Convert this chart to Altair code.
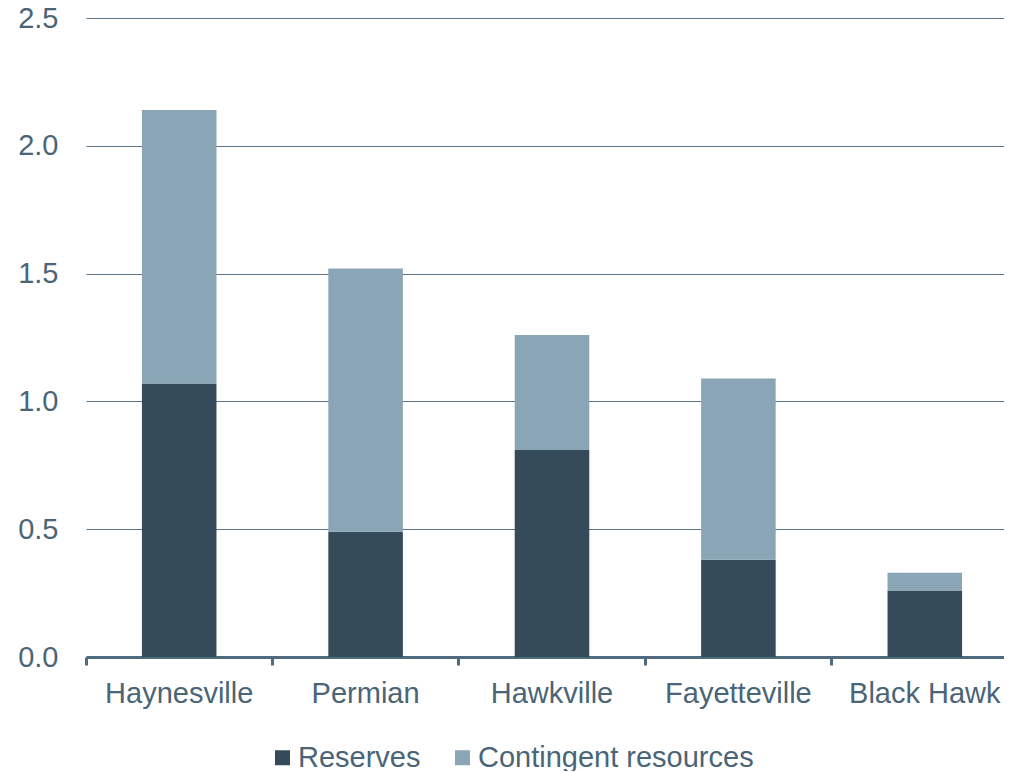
import altair as alt
import pandas as pd

plays = ["Haynesville", "Permian", "Hawkville", "Fayetteville", "Black Hawk"]
reserves = [1.07, 0.49, 0.81, 0.38, 0.26]
contingent = [1.07, 1.03, 0.45, 0.71, 0.07]
series = ["Reserves", "Contingent resources"]
colors = ["#364B59", "#8AA5B5"]

rows = []
for p, r, c in zip(plays, reserves, contingent):
    rows.append({"play": p, "series": series[0], "value": r, "ord": 0})
    rows.append({"play": p, "series": series[1], "value": c, "ord": 1})
df = pd.DataFrame(rows)

FONT = "Liberation Sans"
TXT = "#4A6577"
FS = 29

chart = alt.Chart(df).mark_bar(width={"band": 0.4}).encode(
    x=alt.X("play:N", sort=plays, title=None,
            scale=alt.Scale(paddingInner=0, paddingOuter=0, range=[0, 932]),
            axis=alt.Axis(labelAngle=0, labelFontSize=FS, labelFont=FONT, labelColor=TXT,
                          labelPadding=14, domainColor="#4F6B7D", domainWidth=3,
                          tickColor="#4F6B7D", tickWidth=3, tickSize=8,
                          bandPosition=0, grid=False, labelLimit=0)),
    y=alt.Y("value:Q", stack="zero", title=None,
            scale=alt.Scale(domain=[0, 2.5], nice=False),
            axis=alt.Axis(values=[0, 0.5, 1.0, 1.5, 2.0, 2.5], format=".1f",
                          labelFontSize=FS, labelFont=FONT, labelColor=TXT,
                          labelPadding=28, domain=False, ticks=False,
                          gridColor="#5B7485", gridWidth=1.2)),
    color=alt.Color("series:N", sort=series,
                    scale=alt.Scale(domain=series, range=colors),
                    legend=alt.Legend(title=None, orient="none", direction="horizontal",
                                      legendX=182, legendY=725,
                                      symbolType="square", symbolSize=225,
                                      symbolStrokeWidth=0, labelFontSize=FS,
                                      labelFont=FONT, labelColor=TXT, labelLimit=0,
                                      labelOffset=1, columnPadding=27)),
    order=alt.Order("ord:Q"),
).properties(
    width=918, height=639,
    autosize=alt.AutoSizeParams(type="none"),
    padding={"left": 78, "top": 10, "right": 0, "bottom": 114},
).configure(background="white").configure_view(stroke=None)

chart.save("out.html", embed_options={"renderer": "svg", "actions": False})
